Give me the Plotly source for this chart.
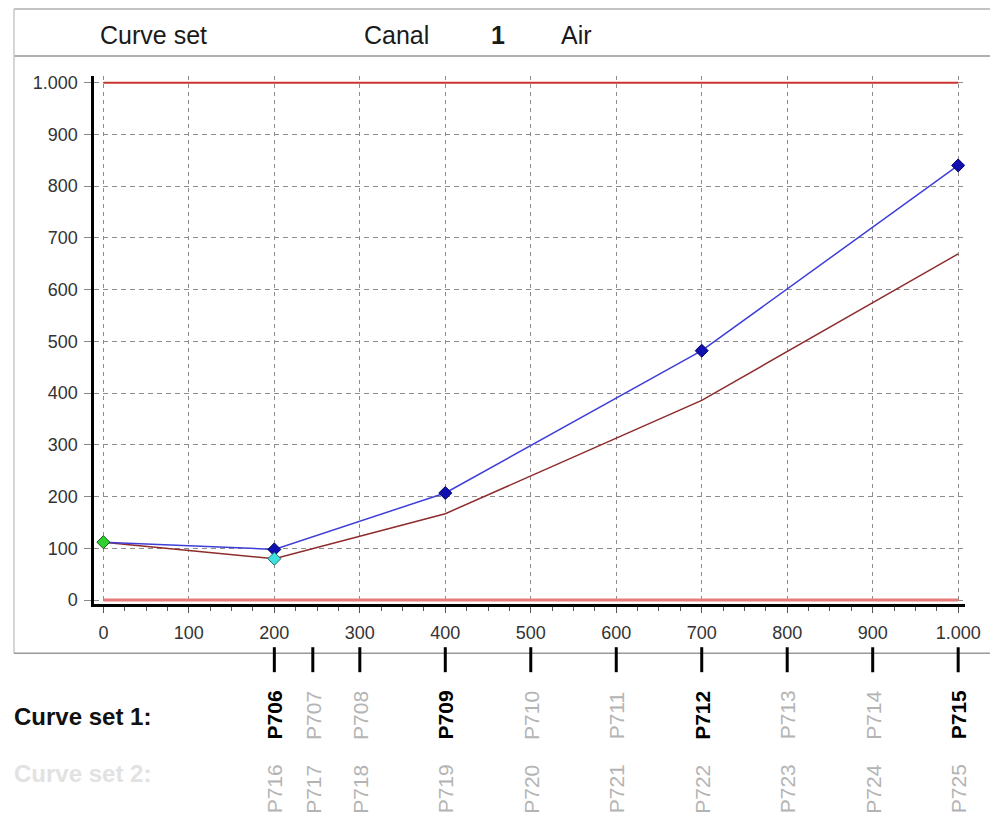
import plotly.graph_objects as go

W, H = 990, 818

# Curve set 1: measured curve (blue) and reference curve (maroon)
x_points = [0, 200, 400, 700, 1000]
blue_y = [112, 98, 207, 482, 840]
red_y = [112, 80, 167, 386, 669]

# special points
start_x = [0]
start_y = [112]
min_x = [200]
min_y = [80]

# limit lines
limit_x = [0, 1000]
upper_limit = [1000, 1000]
lower_limit = [0, 0]

axis_ticks = list(range(0, 1001, 100))

# positions of the programme points along the x axis
p_positions = [200, 245, 300, 400, 500, 600, 700, 800, 900, 1000]
set1_labels = ["P706", "P707", "P708", "P709", "P710", "P711", "P712", "P713", "P714", "P715"]
set2_labels = ["P716", "P717", "P718", "P719", "P720", "P721", "P722", "P723", "P724", "P725"]

header_items = [("Curve set", 98, False), ("Canal", 362, False), ("1", 490, True), ("Air", 560, False)]

# size of the drawable page box in pixels, used to turn pixel layout positions into paper fractions
BOX_W, BOX_H, BOX_TOP = 975.0, 810.0, 2.0


def px(x):
    return x / BOX_W


def py(y):
    return 1 - (y - BOX_TOP) / BOX_H


FONT = "Liberation Sans, Arial, sans-serif"

fig = go.Figure()

# limit lines
fig.add_trace(go.Scatter(x=limit_x, y=lower_limit, mode="lines",
                         line=dict(color="#e87a7a", width=3), hoverinfo="skip"))
fig.add_trace(go.Scatter(x=limit_x, y=upper_limit, mode="lines",
                         line=dict(color="#c9362f", width=2), hoverinfo="skip"))

# curves
fig.add_trace(go.Scatter(x=x_points, y=red_y, mode="lines",
                         line=dict(color="#8e2b2b", width=1.5)))
fig.add_trace(go.Scatter(x=x_points, y=blue_y, mode="lines",
                         line=dict(color="#3f3fd8", width=1.5)))

# markers
fig.add_trace(go.Scatter(x=x_points[1:], y=blue_y[1:], mode="markers",
                         marker=dict(symbol="diamond", size=10, color="#1010b0",
                                     line=dict(color="#000060", width=1))))
fig.add_trace(go.Scatter(x=min_x, y=min_y, mode="markers",
                         marker=dict(symbol="diamond", size=10, color="#40e0e0",
                                     line=dict(color="#207070", width=1))))
fig.add_trace(go.Scatter(x=start_x, y=start_y, mode="markers",
                         marker=dict(symbol="diamond", size=10, color="#30d030",
                                     line=dict(color="#106010", width=1))))

shapes = []
frame_col = "#b0b0b0"
# panel frame and header separator (run off the right edge)
shapes.append(dict(type="line", xref="paper", yref="paper", x0=px(14), x1=1.03, y0=py(8), y1=py(8),
                   line=dict(color=frame_col, width=1.5)))
shapes.append(dict(type="line", xref="paper", yref="paper", x0=px(14), x1=1.03, y0=py(55), y1=py(55),
                   line=dict(color=frame_col, width=2)))
shapes.append(dict(type="line", xref="paper", yref="paper", x0=px(14), x1=px(14), y0=py(8), y1=py(653),
                   line=dict(color="#c8c8c8", width=1.5)))
shapes.append(dict(type="line", xref="paper", yref="paper", x0=px(14), x1=1.03, y0=py(653), y1=py(653),
                   line=dict(color="#999999", width=1.5)))

# programme point markers below the chart
for pos in p_positions:
    shapes.append(dict(type="line", xref="x", yref="paper", x0=pos, x1=pos,
                       y0=py(647), y1=py(672), line=dict(color="black", width=3)))

annotations = []
for text, left, bold in header_items:
    annotations.append(dict(text=f"<b>{text}</b>" if bold else text, xref="paper", yref="paper",
                            x=px(left), y=py(34), xanchor="left", yanchor="middle",
                            showarrow=False, font=dict(size=25, color="#1a1a1a", family=FONT)))

annotations.append(dict(text="<b>Curve set 1:</b>", xref="paper", yref="paper", x=px(12), y=py(716),
                        xanchor="left", yanchor="middle", showarrow=False,
                        font=dict(size=24, color="#111111", family=FONT)))
annotations.append(dict(text="<b>Curve set 2:</b>", xref="paper", yref="paper", x=px(12), y=py(773),
                        xanchor="left", yanchor="middle", showarrow=False,
                        font=dict(size=24, color="#e2e2e2", family=FONT)))

for pos, lab1, lab2 in zip(p_positions, set1_labels, set2_labels):
    on_curve = pos in x_points
    annotations.append(dict(text=f"<b>{lab1}</b>" if on_curve else lab1, xref="x", yref="paper",
                            x=pos, y=py(715), textangle=-90, xanchor="center", yanchor="middle",
                            showarrow=False,
                            font=dict(size=21, color="#000000" if on_curve else "#b4b4b4", family=FONT)))
    annotations.append(dict(text=lab2, xref="x", yref="paper",
                            x=pos, y=py(789), textangle=-90, xanchor="center", yanchor="middle",
                            showarrow=False, font=dict(size=21, color="#b4b4b4", family=FONT)))

grid_col = "#8c8c8c"
fig.update_layout(
    width=W, height=H, autosize=False,
    margin=dict(l=0, r=0, t=0, b=0),
    paper_bgcolor="white", plot_bgcolor="white",
    showlegend=False,
    separators=",.",
    font=dict(family=FONT),
    shapes=shapes,
    annotations=annotations,
    xaxis=dict(
        domain=[px(94.5), px(966)], range=[-10.5, 1008],
        tickvals=axis_ticks, tickformat=",d", separatethousands=True,
        showline=True, linecolor="black", linewidth=3,
        ticks="outside", ticklen=6, tickcolor="#555555", tickwidth=1,
        tickfont=dict(size=18, color="#333333", family=FONT), ticklabelstandoff=4,
        ticklabeloverflow="allow",
        minor=dict(dtick=25, tick0=0, ticks="outside", ticklen=4, tickcolor="#555555", showgrid=False),
        showgrid=True, gridcolor=grid_col, gridwidth=1, griddash="4px,4px",
        zeroline=False, fixedrange=True,
    ),
    yaxis=dict(
        domain=[py(604), py(75)], range=[-8, 1013],
        tickvals=axis_ticks, tickformat=",d", separatethousands=True,
        showline=True, linecolor="black", linewidth=3,
        ticks="outside", ticklen=7, tickcolor="#888888", tickwidth=1,
        tickfont=dict(size=18, color="#333333", family=FONT), ticklabelstandoff=3,
        showgrid=True, gridcolor=grid_col, gridwidth=1, griddash="5px,4px",
        zeroline=False, fixedrange=True,
    ),
)

fig.write_html(
    "out.html",
    config={"responsive": False, "displayModeBar": False},
    post_script="document.body.style.margin='0';document.body.style.overflow='hidden';",
)
